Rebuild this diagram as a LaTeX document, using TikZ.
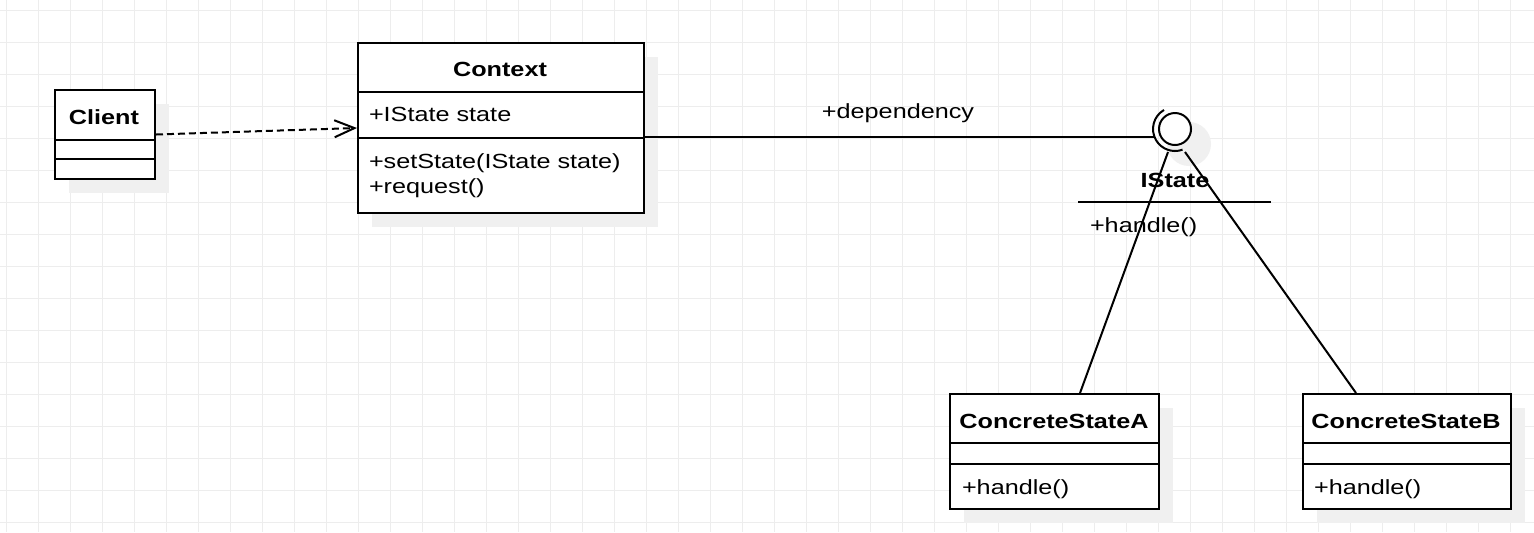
\documentclass[tikz,border=0pt]{standalone}
\usepackage{fontspec}
\setmainfont{Liberation Sans}[FakeStretch=1.23]
\usetikzlibrary{arrows.meta, calc, shadows}

\begin{document}
\begin{tikzpicture}[x=0.5pt, y=-0.5pt, line width=1pt,
  gridline/.style={draw=black!7, line width=0.5pt},
  classbox/.style={draw, fill=white, line width=1pt, inner sep=0pt, anchor=north west,
    drop shadow={shadow xshift=7pt, shadow yshift=-7pt, fill=black!6, opacity=1}},
  txt/.style={font=\fontsize{10.25}{12.75}\selectfont, inner sep=0pt},
  title/.style={txt, font=\fontsize{10.25}{12.75}\selectfont\bfseries, anchor=base},
  member/.style={txt, anchor=base west},
  depend/.style={dashed, dash pattern=on 3.5pt off 2pt,
    -{Straight Barb[length=10pt, width=8.5pt, line width=1pt]}}]
  % 背景和网格
  \useasboundingbox[fill=white] (0,0) rectangle (1534,532);
  \foreach \gx in {6.5,38.5,...,1534} \draw[gridline] (\gx,0) -- (\gx,532);
  \foreach \gy in {10.5,42.5,...,532} \draw[gridline] (0,\gy) -- (1534,\gy);

  % 类框
  \node[classbox, minimum width=50pt, minimum height=44.5pt] (client) at (54,89) {};
  \node[classbox, minimum width=143pt, minimum height=85pt] (context) at (357,42) {};
  \node[classbox, minimum width=104.5pt, minimum height=57.5pt] (stA) at (949,393) {};
  \node[classbox, minimum width=104pt, minimum height=57.5pt] (stB) at (1302,393) {};

  \draw ($(client.north west)+(0,51)$) -- ($(client.north east)+(0,51)$);
  \draw ($(client.north west)+(0,70)$) -- ($(client.north east)+(0,70)$);
  \draw ($(context.north west)+(0,50)$) -- ($(context.north east)+(0,50)$);
  \draw ($(context.north west)+(0,96)$) -- ($(context.north east)+(0,96)$);
  \foreach \st in {stA, stB} {
    \draw ($(\st.north west)+(0,50)$) -- ($(\st.north east)+(0,50)$);
    \draw ($(\st.north west)+(0,71)$) -- ($(\st.north east)+(0,71)$);
  }

  \node[title] (clientname) at (104,124) {Client};
  \node[title] (contextname) at (500,76) {Context};
  \node[member] (ctxattr) at (368,121.5) {+IState state};
  \node[member] (ctxset) at (368,168) {+setState(IState state)};
  \node[member] (ctxreq) at (368,193.5) {+request()};
  \node[title] (stAname) at (1054,428) {ConcreteStateA};
  \node[member] (stAop) at (961,494) {+handle()};
  \node[title] (stBname) at (1406,428) {ConcreteStateB};
  \node[member] (stBop) at (1313,494) {+handle()};

  % 接口 IState（棒棒糖）
  \fill[black!6] (1189,144) circle[radius=22];
  \node[circle, draw, fill=white, minimum size=16pt, inner sep=0pt] (iface) at (1175,129) {};
  \draw ($(iface.center)+(-120:22)$) arc[start angle=-120, end angle=-290, radius=22];
  \node[title] (ifname) at (1175,187) {IState};
  \draw ($(iface.center)+(-97,73)$) -- ($(iface.center)+(96,73)$);
  \node[member] (ifop) at (1089,232) {+handle()};

  % 连线
  \draw[depend] (client.east) -- (context.west);
  \coordinate (sockL) at (1154,137);
  \draw (context.east |- sockL) -- (sockL);
  \node[txt, anchor=base] (deplabel) at (898,118) {+dependency};

  \coordinate (ifA) at (1168,152);
  \coordinate (ifB) at (1185,152);
  \coordinate (stAtop) at ($(stA.north west)+(131,0)$);
  \coordinate (stBtop) at ($(stB.north west)+(54,0)$);
  \draw (ifA) -- (stAtop);
  \draw (ifB) -- (stBtop);
\end{tikzpicture}
\end{document}
